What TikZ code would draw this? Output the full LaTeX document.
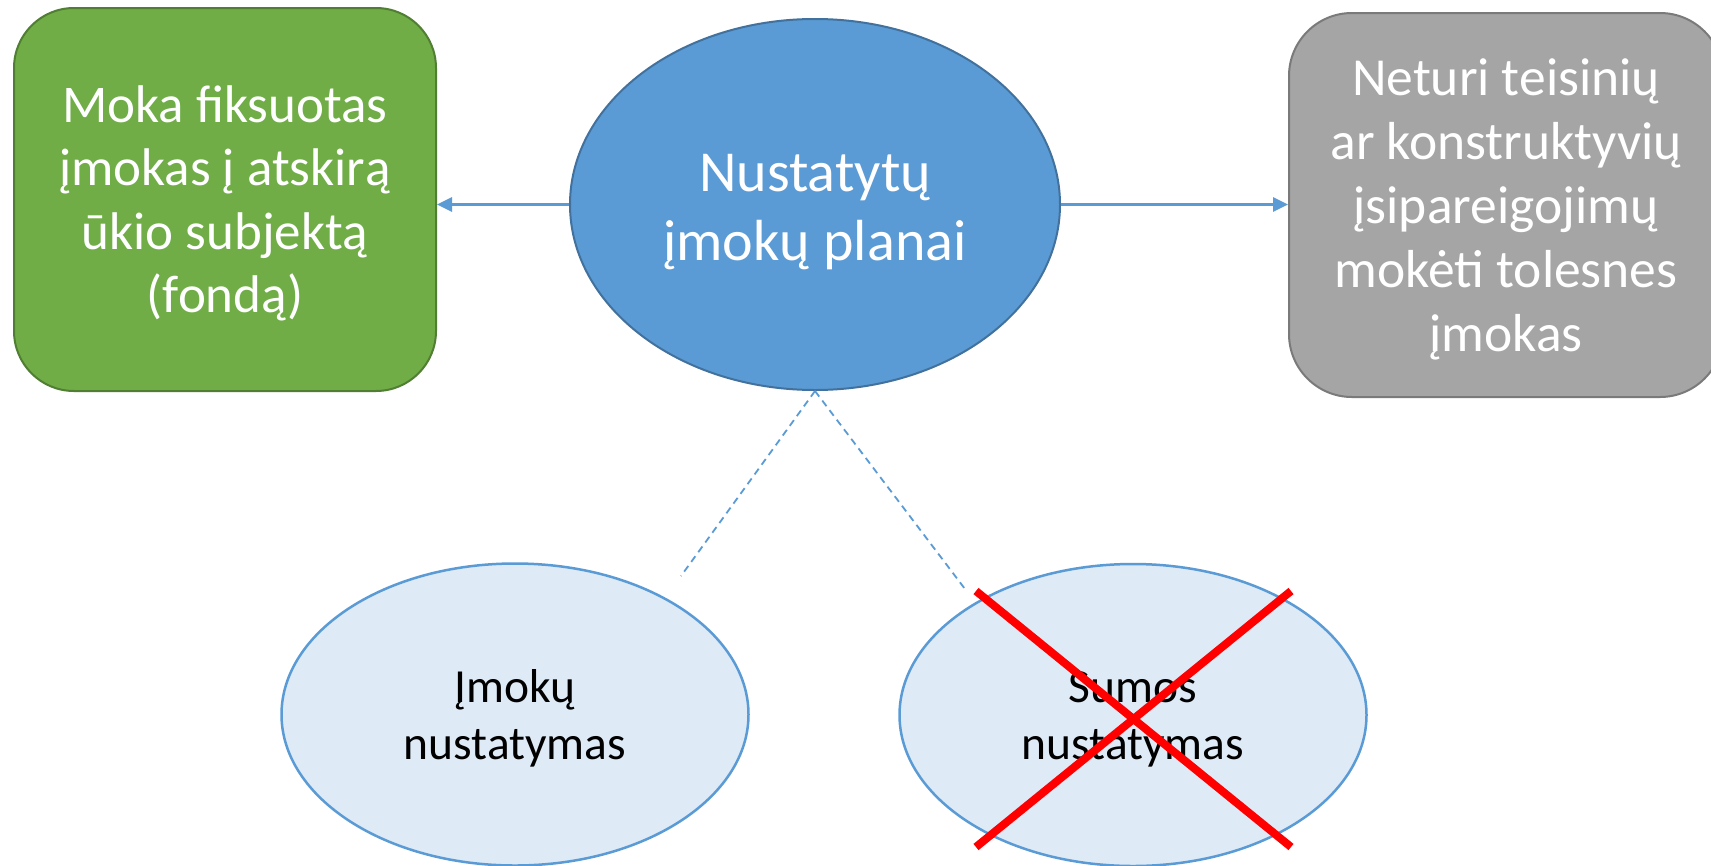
\documentclass[tikz,border=0pt]{standalone}
\usepackage{fontspec}
\setmainfont{Carlito}
\usetikzlibrary{shapes.geometric,arrows.meta}
\definecolor{gfill}{HTML}{70AD47}
\definecolor{gdraw}{HTML}{507E32}
\definecolor{bfill}{HTML}{5B9BD5}
\definecolor{bdraw}{HTML}{41719C}
\definecolor{grfill}{HTML}{A5A5A5}
\definecolor{grdraw}{HTML}{7A7A7A}
\definecolor{lfill}{HTML}{DEEBF7}
\definecolor{crossred}{HTML}{FF0000}
\newcommand{\tlines}[1]{\begin{tabular}[t]{@{}c@{}}#1\end{tabular}}
\tikzset{
  greenbox/.style={rectangle, rounded corners=60pt, fill=gfill, draw=gdraw, line width=2pt,
    minimum width=422pt, minimum height=383pt, inner sep=0pt, text=white,
    font=\fontsize{53}{63.5}\selectfont, text height=0pt, text depth=155pt},
  greybox/.style={rectangle, rounded corners=63pt, fill=grfill, draw=grdraw, line width=2pt,
    minimum width=434pt, minimum height=384pt, inner sep=0pt, text=white,
    font=\fontsize{53.5}{64}\selectfont, text height=0pt, text depth=220pt},
  mainell/.style={ellipse, fill=bfill, draw=bdraw, line width=2pt,
    minimum width=490pt, minimum height=371pt, inner sep=0pt, text=white,
    font=\fontsize{58}{69.5}\selectfont, text height=0pt, text depth=27pt},
  subell/.style={ellipse, fill=lfill, draw=bfill, line width=2.5pt,
    minimum width=467pt, minimum height=302pt, inner sep=0pt, text=black,
    font=\fontsize{47.5}{57}\selectfont, text height=0pt, text depth=25pt},
  arrowline/.style={draw=bfill, line width=3pt, -{Triangle[length=15pt,width=14pt]}},
  dashline/.style={draw=bfill, line width=1.8pt, dash pattern=on 7pt off 5pt},
  crossline/.style={draw=crossred, line width=8pt}
}
\begin{document}
\begin{tikzpicture}[x=1pt, y=-1pt]
\clip (0,0) rectangle (1711,865);
\fill[white] (0,0) rectangle (1711,865);
\node[greenbox] (g) at (225,199.5) {\tlines{Moka fiksuotas\\įmokas į atskirą\\ūkio subjektą\\(fondą)}};
\node[greybox] (gr) at (1506,205) {\tlines{Neturi teisinių\\ar konstruktyvių\\įsipareigojimų\\mokėti tolesnes\\įmokas}};
\node[mainell] (c) at (815,204.5) {\tlines{Nustatytų\\įmokų planai}};
\node[subell] (l) at (515,714.5) {\tlines{Įmokų\\nustatymas}};
\node[subell] (r) at (1133,715) {\tlines{Sumos\\nustatymas}};
\draw[arrowline] (c.west) -- (c.west -| g.east);
\draw[arrowline] (c.east) -- (c.east -| gr.west);
\coordinate (dl) at (681,576);
\coordinate (dr) at (965,589);
\draw[dashline] (c.south) -- (dl);
\draw[dashline] (c.south) -- (dr);
\coordinate (x1) at (976,591);
\coordinate (x2) at (1291,847);
\coordinate (x3) at (1291,591);
\coordinate (x4) at (976,847);
\draw[crossline] (x1) -- (x2);
\draw[crossline] (x3) -- (x4);
\end{tikzpicture}
\end{document}
